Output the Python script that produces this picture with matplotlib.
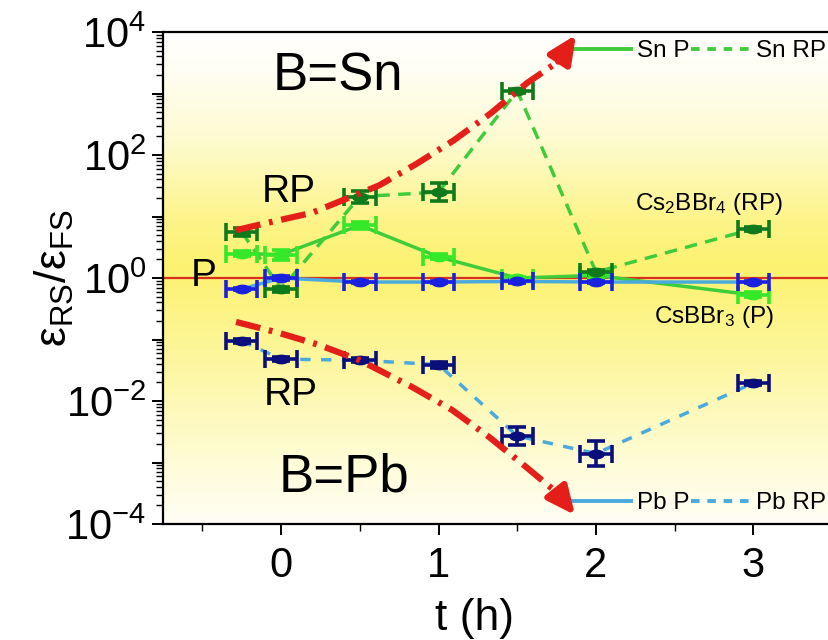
import numpy as np
import matplotlib
matplotlib.use("Agg")
import matplotlib.pyplot as plt
from matplotlib.colors import LinearSegmentedColormap
from matplotlib.path import Path
from matplotlib.lines import Line2D
from matplotlib.ticker import LogLocator, FixedLocator, NullFormatter, FuncFormatter, MultipleLocator

plt.rcParams['font.family'] = ['Liberation Sans', 'DejaVu Sans']
plt.rcParams['mathtext.fontset'] = 'custom'
plt.rcParams['mathtext.rm'] = 'Liberation Sans'
plt.rcParams['mathtext.it'] = 'Liberation Sans:italic'
plt.rcParams['mathtext.bf'] = 'Liberation Sans:bold'

# ---------------- data ----------------
t = [-0.25, 0, 0.5, 1, 1.5, 2, 3]
t_err = [0.1, 0.1, 0.1, 0.1, 0.1, 0.1, 0.1]

sn_p = [2.5, 2.4, 7.2, 2.2, 1.0, 1.1, 0.53]
sn_p_dec = [0.04, 0.08, 0.06, 0.04, 0.02, 0.04, 0.04]
sn_rp = [5.6, 0.66, 21, 25, 1100, 1.25, 6.3]
sn_rp_dec = [0.06, 0.04, 0.10, 0.15, 0.03, 0.04, 0.03]
pb_p = [0.66, 1.0, 0.86, 0.86, 0.88, 0.86, 0.86]
pb_p_dec = [0.02, 0.03, 0.02, 0.02, 0.02, 0.02, 0.02]
pb_rp = [0.095, 0.048, 0.046, 0.039, 0.0027, 0.0014, 0.0196]
pb_rp_dec = [0.03, 0.03, 0.03, 0.05, 0.15, 0.21, 0.04]

# guide arrows (t, ratio)
up_t = [-0.286, -0.095, 0.197, 0.368, 0.622, 0.857, 1.098, 1.333, 1.562, 1.76]
up_v = [6.0, 7.8, 11.5, 17.4, 32, 71, 174, 479, 1480, 3300]
up_tip = (1.873, 9000)
dn_t = [-0.286, -0.013, 0.241, 0.495, 0.832, 1.086, 1.321, 1.556, 1.76]
dn_v = [0.193, 0.128, 0.0815, 0.0465, 0.0169, 0.00714, 0.0026, 0.000845, 0.00031]
dn_tip = (1.867, 0.000140)

x_ticks = [0, 1, 2, 3]

# ---------------- figure ----------------
W, H = 829, 640
fig = plt.figure(figsize=(W / 100, H / 100), dpi=100)
L, R, T, B = 163, 829, 32, 524
pos = [L / W, (H - B) / H, (R - L) / W, (B - T) / H]

bg = fig.add_axes(pos, zorder=0)
cmap = LinearSegmentedColormap.from_list('bgy', [
    (0.0, '#fffef4'), (0.12, '#fffcd8'), (0.35, '#fdf69a'),
    (0.52, '#fcf270'), (0.62, '#fdf48a'), (0.78, '#fefbd0'),
    (0.92, '#fffef2'), (1.0, '#ffffff')])
grad = np.linspace(0, 1, 400).reshape(-1, 1)
bg.imshow(grad, cmap=cmap, aspect='auto', origin='lower', extent=[0, 1, 0, 1])
bg.set_axis_off()

ax = fig.add_axes(pos, zorder=1)
ax.set_facecolor('none')
ax.set_yscale('log')
ax.set_xlim(-0.75, 3.48)
ax.set_ylim(1e-4, 1e4)

ell = np.linspace(0, 2 * np.pi, 40)
ell_marker = Path(np.column_stack([np.cos(ell), 0.55 * np.sin(ell)]), closed=True)

c_snp_line = '#3fcc3a'
c_snp_mk = '#35e82a'
c_snrp_mk = '#0f7a1c'
c_pb_line = '#4aaade'
c_pbp_mk = '#1a22e0'
c_pbrp_mk = '#0b0f7c'
red = '#e41e18'

ax.axhline(1.0, color='#d8301c', lw=1.6, zorder=2)


def yerr_from(vals, dec):
    v = np.array(vals, float)
    d = np.array(dec, float)
    return [v - v / 10 ** d, v * 10 ** d - v]


def draw(vals, dec, line_c, mk_c, ls):
    ax.plot(t, vals, color=line_c, lw=2.5, ls=ls, zorder=3)
    ax.errorbar(t, vals, xerr=t_err, yerr=yerr_from(vals, dec), fmt='none',
                ecolor=mk_c, elinewidth=2.6, capsize=6.5, capthick=2.6, zorder=4)
    ax.plot(t, vals, ls='none', marker=ell_marker, ms=11, color=mk_c, zorder=5)


draw(sn_p, sn_p_dec, c_snp_line, c_snp_mk, '-')
draw(sn_rp, sn_rp_dec, c_snp_line, c_snrp_mk, (0, (3.6, 2.4)))
draw(pb_p, pb_p_dec, c_pb_line, c_pbp_mk, '-')
draw(pb_rp, pb_rp_dec, c_pb_line, c_pbrp_mk, (0, (3.0, 3.0)))

# red guide arrows
for xs, ys, tip in [(up_t, up_v, up_tip), (dn_t, dn_v, dn_tip)]:
    ax.plot(xs, ys, color=red, lw=4.5, ls=(0, (4.0, 1.4, 0.6, 1.4)), zorder=6,
            solid_capstyle='butt')
    ax.annotate('', xy=tip, xytext=(xs[-1], ys[-1]),
                arrowprops=dict(arrowstyle='-|>,head_length=1.3,head_width=0.6',
                                mutation_scale=13, lw=4.5, color=red,
                                shrinkA=0, shrinkB=0), zorder=7)

# texts
ax.text(0.36, 10 ** 3.28, 'B=Sn', fontsize=38, ha='center', va='center', zorder=8)
ax.text(0.40, 10 ** -3.25, 'B=Pb', fontsize=38, ha='center', va='center', zorder=8)
ax.text(0.05, 10 ** 1.40, 'RP', fontsize=28, ha='center', va='center', zorder=8)
ax.text(0.06, 10 ** -1.90, 'RP', fontsize=28, ha='center', va='center', zorder=8)
ax.text(-0.49, 10 ** 0.03, 'P', fontsize=28, ha='center', va='center', zorder=8)
ax.text(2.72, 10 ** 1.2, r'Cs$_{2}$BBr$_{4}$ (RP)', fontsize=17.5, ha='center', va='center', zorder=8)
ax.text(2.75, 10 ** -0.63, r'CsBBr$_{3}$ (P)', fontsize=17.5, ha='center', va='center', zorder=8)

# legends
h1 = [Line2D([], [], color=c_snp_line, lw=2.8), Line2D([], [], color=c_snp_line, lw=2.8, ls=(0, (2.2, 2.0)))]
leg1 = ax.legend(h1, ['Sn P', 'Sn RP'], ncol=2, loc='center left',
                 bbox_to_anchor=((573 - L) / (R - L), (B - 51) / (B - T)),
                 frameon=False, fontsize=17.5, handlelength=2.4, handletextpad=0.25,
                 columnspacing=0.05, borderpad=0, borderaxespad=0)
ax.add_artist(leg1)
h2 = [Line2D([], [], color=c_pb_line, lw=2.8), Line2D([], [], color=c_pb_line, lw=2.8, ls=(0, (2.2, 2.0)))]
ax.legend(h2, ['Pb P', 'Pb RP'], ncol=2, loc='center left',
          bbox_to_anchor=((573 - L) / (R - L), (B - 503) / (B - T)),
          frameon=False, fontsize=17.5, handlelength=2.4, handletextpad=0.25,
          columnspacing=0.05, borderpad=0, borderaxespad=0)

# axes styling
ax.xaxis.set_major_locator(FixedLocator(x_ticks))
ax.xaxis.set_minor_locator(MultipleLocator(0.5))
ax.yaxis.set_major_locator(LogLocator(base=10, numticks=20))
ax.yaxis.set_minor_locator(LogLocator(base=10, subs=np.arange(2, 10), numticks=20))
ax.yaxis.set_minor_formatter(NullFormatter())


def yfmt(v, p):
    e = int(round(np.log10(v)))
    if e % 2:
        return ''
    return r'$\mathregular{10^{%d}}$' % e


ax.yaxis.set_major_formatter(FuncFormatter(yfmt))
ax.tick_params(axis='both', which='major', direction='out', length=8, width=1.4, labelsize=30)
ax.tick_params(axis='both', which='minor', direction='out', length=5, width=1.0)
ax.tick_params(axis='x', which='major', pad=8)
ax.tick_params(axis='y', which='major', pad=4)
ax.tick_params(top=False, right=False, which='both')
for s in ['left', 'bottom', 'top']:
    ax.spines[s].set_linewidth(1.6)
ax.spines['right'].set_visible(False)

ax.set_xlabel('t (h)', fontsize=32)
ax.xaxis.set_label_coords((475 - L) / (R - L), -0.15)
ax.set_ylabel(r'$\mathregular{ε_{RS}/ε_{FS}}$', fontsize=32)
ax.yaxis.set_label_coords((76 - L) / (R - L), 0.5)

fig.savefig('out.png', dpi=100)
